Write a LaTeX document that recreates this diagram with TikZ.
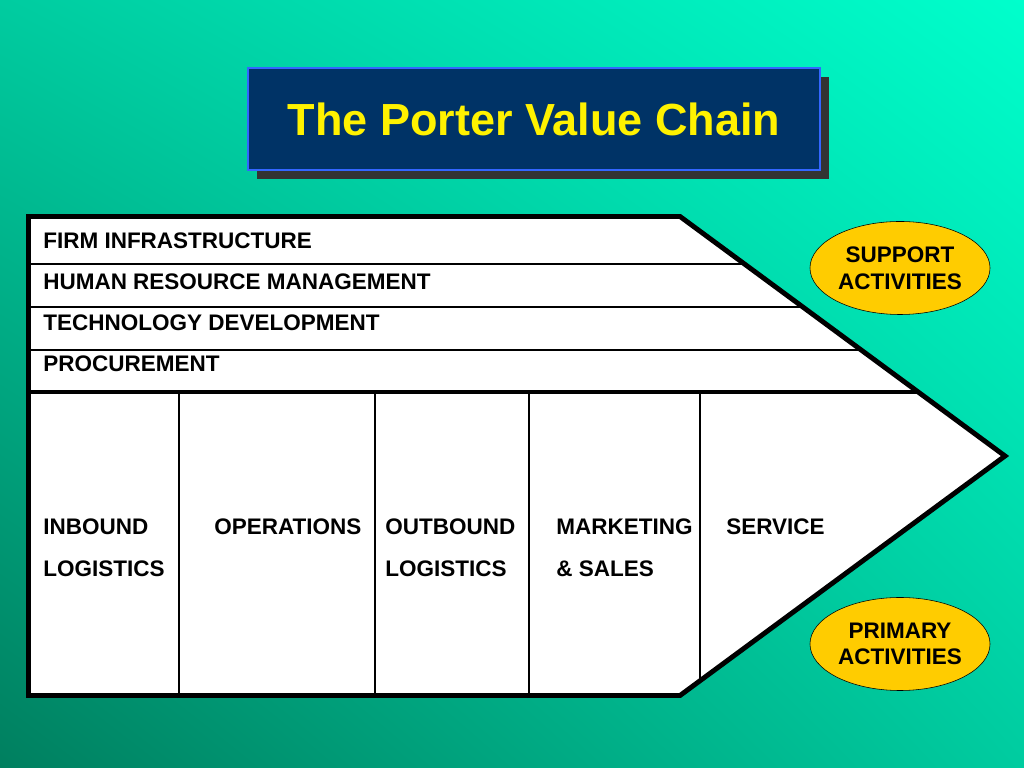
\documentclass[tikz,border=0pt]{standalone}
\usepackage{fontspec}
\setmainfont{Liberation Sans}
\usetikzlibrary{shapes.geometric,shadows,shadings}
\definecolor{bgdark}{HTML}{007F5F}
\definecolor{bgmid}{HTML}{00CCA0}
\definecolor{bglight}{HTML}{00FFCC}
\definecolor{titlenavy}{HTML}{003366}
\definecolor{titleblue}{HTML}{3366FF}
\definecolor{activgold}{HTML}{FFCC00}

\begin{document}
\begin{tikzpicture}[x=0.025cm,y=0.025cm,
  every node/.style={font=\fontsize{16}{19}\selectfont\bfseries},
  rowlabel/.style={anchor=north west,inner sep=0pt},
  collabel/.style={anchor=north west,inner sep=0pt,align=left,
    font=\fontsize{16}{29.8}\selectfont\bfseries},
  activity/.style={ellipse,draw=black,fill=activgold,minimum width=4.5cm,
    minimum height=2.325cm,inner sep=0pt,align=center},
  titlebox/.style={draw=titleblue,line width=2pt,fill=titlenavy,text=yellow,
    minimum width=14.3cm,minimum height=2.55cm,font=\fontsize{32}{38}\selectfont\bfseries,
    drop shadow={shadow xshift=0.23cm,shadow yshift=-0.23cm,fill=black!80,opacity=1}}]
% background
\shade[lower left=bgdark,upper right=bglight,upper left=bgmid,lower right=bgmid]
  (0,0) rectangle (1024,768);
% title
\node[titlebox] (title) at (534,649) {The Porter Value Chain};
% chain outline
\coordinate (nw) at (28.5,551.5);
\coordinate (ne) at (680,551.5);
\coordinate (tip) at (1005,312);
\coordinate (se) at (680,72.5);
\coordinate (sw) at (28.5,72.5);
\fill[white] (nw) -- (ne) -- (tip) -- (se) -- (sw) -- cycle;
\begin{scope}
\clip (nw) -- (ne) -- (tip) -- (se) -- (sw) -- cycle;
\foreach \y in {504,461,418}
  \draw[line width=1pt] (0,\y) -- (1024,\y);
\foreach \x in {179,375,529,700}
  \draw[line width=1pt] (\x,376) -- (\x,0);
\draw[line width=3.5pt] (0,376) -- (1024,376);
\end{scope}
\draw[line width=3.5pt] (nw) -- (ne) -- (tip) -- (se) -- (sw) -- cycle;
% support activities
\node[rowlabel] (firm) at (43,535) {FIRM INFRASTRUCTURE};
\node[rowlabel] (hrm) at (43,494) {HUMAN RESOURCE MANAGEMENT};
\node[rowlabel] (tech) at (43,453) {TECHNOLOGY DEVELOPMENT};
\node[rowlabel] (proc) at (43,412) {PROCUREMENT};
% primary activities
\node[collabel] (inbound) at (43,249) {INBOUND\\LOGISTICS};
\node[collabel] (operations) at (214,249) {OPERATIONS};
\node[collabel] (outbound) at (385,249) {OUTBOUND\\LOGISTICS};
\node[collabel] (marketing) at (556,249) {MARKETING\\\& SALES};
\node[collabel] (service) at (726,249) {SERVICE};
% legend
\node[activity] (support) at (900,500) {SUPPORT\\ACTIVITIES};
\node[activity] (primary) at (900,124) {PRIMARY\\ACTIVITIES};
\end{tikzpicture}
\end{document}
